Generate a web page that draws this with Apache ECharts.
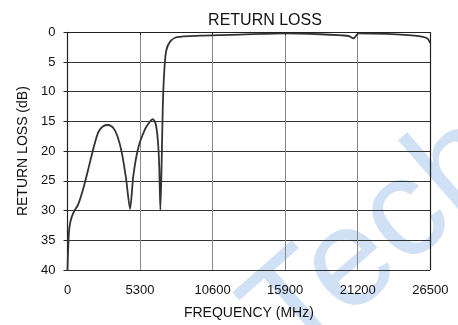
<!DOCTYPE html>
<html>
<head>
<meta charset="utf-8">
<script src="https://cdn.jsdelivr.net/npm/echarts@6/dist/echarts.min.js"></script>
<style>
  html, body { margin: 0; padding: 0; background: #fff; }
  #chart { width: 458px; height: 325px; }
</style>
</head>
<body>
<div id="chart"></div>
<script>
// frequency (MHz) and return loss (dB)
var freq = [0, 40, 110, 220, 425, 790, 1155, 1520, 1886, 2250, 2600, 2983, 3350, 3650, 3962, 4276, 4569,
    4810, 5175, 5665, 6000, 6228, 6440, 6600, 6700, 6784, 6886, 6959, 7054, 7200, 7493, 7983, 9686,
    11730, 15880, 18470, 20530, 20890, 21260, 23330, 25530, 26260, 26500];
var loss = [40, 37, 33.5, 31.8, 30.4, 28.9, 26.3, 23, 19.6, 16.8, 15.8, 15.6, 16.1, 17.5, 20.2, 24.6, 29.7,
    24.1, 19.4, 16.3, 15.1, 14.6, 15.4, 18.2, 22.5, 29.9, 21, 12.7, 7.1, 3.2, 1.57, 0.83, 0.57,
    0.45, 0.17, 0.33, 0.62, 1.0, 0.17, 0.28, 0.6, 1.0, 1.8];
var xTicks = [0, 5300, 10600, 15900, 21200, 26500];

var points = freq.map(function (f, i) { return [f, loss[i]]; });

var chart = echarts.init(document.getElementById('chart'));
var font = 'Liberation Sans, Arial, sans-serif';
chart.setOption({
    animation: false,
    title: {
        text: 'RETURN LOSS',
        left: 260,
        top: 8,
        textAlign: 'center',
        textStyle: { fontFamily: font, fontSize: 16, fontWeight: 'normal', color: '#111' }
    },
    graphic: [{
        type: 'text',
        x: 222,
        y: 285,
        rotation: 0.72,
        style: {
            text: 'Tech',
            font: '140px Liberation Sans, Arial, sans-serif',
            fill: 'rgba(120,170,230,0.35)'
        },
        z: -1
    }],
    grid: { left: 67.5, right: 27.7, top: 32.3, bottom: 52.7 },
    xAxis: {
        type: 'value',
        min: 0,
        max: 26500,
        interval: 5300,
        name: 'FREQUENCY (MHz)',
        nameLocation: 'middle',
        nameGap: 36,
        nameTextStyle: { fontFamily: font, fontSize: 14, color: '#111' },
        axisLine: { lineStyle: { color: '#222', width: 1.2 } },
        axisTick: { show: true, length: 3, lineStyle: { color: '#222' } },
        axisLabel: {
            fontFamily: font, fontSize: 13, color: '#111', margin: 14,
            formatter: function (v) { return xTicks.indexOf(v) >= 0 ? String(v) : ''; }
        },
        splitLine: { show: true, lineStyle: { color: '#888', width: 1 } }
    },
    yAxis: {
        type: 'value',
        inverse: true,
        min: 0,
        max: 40,
        interval: 5,
        name: 'RETURN LOSS (dB)',
        nameLocation: 'middle',
        nameGap: 37,
        nameTextStyle: { fontFamily: font, fontSize: 14, color: '#111' },
        axisLine: { show: true, lineStyle: { color: '#222', width: 1.2 } },
        axisTick: { show: true, length: 4, lineStyle: { color: '#222' } },
        axisLabel: { fontFamily: font, fontSize: 13, color: '#111', margin: 12 },
        splitLine: { show: true, lineStyle: { color: '#333', width: 1 } }
    },
    series: [
        {
            type: 'line',
            data: points,
            smooth: 0.25,
            showSymbol: false,
            lineStyle: { color: '#333', width: 1.8 }
        },
        {
            // plot frame on top and right
            type: 'line',
            data: [],
            markLine: {
                silent: true,
                symbol: 'none',
                label: { show: false },
                lineStyle: { color: '#222', width: 1.2, type: 'solid' },
                data: [{ yAxis: 0 }, { xAxis: 26500 }]
            }
        }
    ]
});
window.addEventListener('resize', function () {
    chart.resize();
});
</script>
</body>
</html>
